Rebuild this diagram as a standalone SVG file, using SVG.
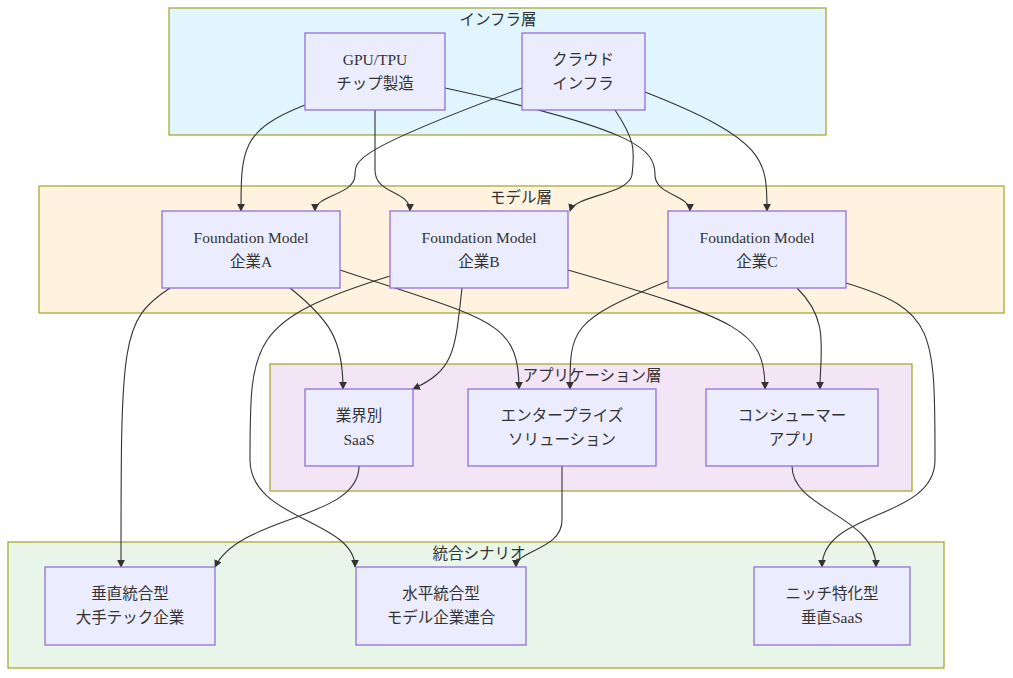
<svg xmlns="http://www.w3.org/2000/svg" width="1013" height="678" viewBox="0 0 1013 678">
<style>
.n rect{fill:#ECECFF;stroke:#9370DB;stroke-width:1.3}
.c{stroke:#AAAA33;stroke-width:1.3}
text{font-family:"Liberation Serif","Noto Sans CJK JP",serif;font-size:15.5px;fill:#333;text-anchor:middle}
.e path{fill:none;stroke:#333;stroke-width:1.1;marker-end:url(#a)}
</style>
<defs><marker id="a" viewBox="0 0 10 10" refX="9" refY="5" markerWidth="7" markerHeight="7" orient="auto"><path d="M0,0L10,5L0,10z" fill="#333"/></marker></defs>
<g id="infra"><rect class="c" x="169" y="8" width="657" height="127" fill="#E1F5FE"/><text x="498" y="25">インフラ層</text></g>
<g id="model"><rect class="c" x="39" y="186" width="965" height="127" fill="#FFF3E0"/><text x="521" y="203">モデル層</text></g>
<g id="app"><rect class="c" x="270" y="364" width="642" height="127" fill="#F3E5F5"/><text x="592" y="381">アプリケーション層</text></g>
<g id="scen"><rect class="c" x="8" y="542" width="936" height="126" fill="#E8F5E9"/><text x="479" y="559">統合シナリオ</text></g>
<g class="e" id="edges">
<path d="M305,105 C241,130 241,150 241,211"/>
<path d="M375,110 L375,170 C375,195 410,190 410,211"/>
<path d="M445,88 C640,130 655,150 655,175 C655,195 690,195 690,211"/>
<path d="M522,88 C355,150 355,160 355,175 C355,195 315,195 315,211"/>
<path d="M615,110 C635,140 635,150 632,175 C628,195 575,195 570,211"/>
<path d="M645,92 C767,140 767,160 767,211"/>
<path d="M290,288 C330,320 343,340 343,389"/>
<path d="M340,270 C490,320 519,320 519,389"/>
<path d="M170,288 C121,320 121,340 121,567"/>
<path d="M462,288 C455,350 455,370 413,389"/>
<path d="M390,276 C250,320 250,340 250,460 C250,520 355,520 355,567"/>
<path d="M568,270 C740,320 765,330 765,389"/>
<path d="M668,281 C570,320 570,330 570,389"/>
<path d="M797,288 C830,320 820,350 820,389"/>
<path d="M846,283 C935,310 935,330 935,460 C935,520 822,510 822,567"/>
<path d="M359,466 C359,520 240,515 215,567"/>
<path d="M562,466 L562,520 C562,550 516,550 516,567"/>
<path d="M792,466 C792,510 876,515 876,567"/>
</g>
<g class="n" id="gpu"><rect x="305" y="33" width="140" height="77"/><text x="375" y="65">GPU/TPU</text><text x="375" y="89">チップ製造</text></g>
<g class="n" id="cloud"><rect x="522" y="33" width="123" height="77"/><text x="583" y="65">クラウド</text><text x="583" y="89">インフラ</text></g>
<g class="n" id="fa"><rect x="162" y="211" width="178" height="77"/><text x="251" y="243">Foundation Model</text><text x="251" y="267">企業A</text></g>
<g class="n" id="fb"><rect x="390" y="211" width="178" height="77"/><text x="479" y="243">Foundation Model</text><text x="479" y="267">企業B</text></g>
<g class="n" id="fc"><rect x="668" y="211" width="178" height="77"/><text x="757" y="243">Foundation Model</text><text x="757" y="267">企業C</text></g>
<g class="n" id="saas"><rect x="305" y="389" width="108" height="77"/><text x="359" y="421">業界別</text><text x="359" y="445">SaaS</text></g>
<g class="n" id="ent"><rect x="468" y="389" width="188" height="77"/><text x="562" y="421">エンタープライズ</text><text x="562" y="445">ソリューション</text></g>
<g class="n" id="con"><rect x="706" y="389" width="172" height="77"/><text x="792" y="421">コンシューマー</text><text x="792" y="445">アプリ</text></g>
<g class="n" id="vert"><rect x="45" y="567" width="170" height="78"/><text x="130" y="599">垂直統合型</text><text x="130" y="623">大手テック企業</text></g>
<g class="n" id="horz"><rect x="356" y="567" width="170" height="78"/><text x="441" y="599">水平統合型</text><text x="441" y="623">モデル企業連合</text></g>
<g class="n" id="niche"><rect x="754" y="567" width="156" height="78"/><text x="832" y="599">ニッチ特化型</text><text x="832" y="623">垂直SaaS</text></g>
</svg>
